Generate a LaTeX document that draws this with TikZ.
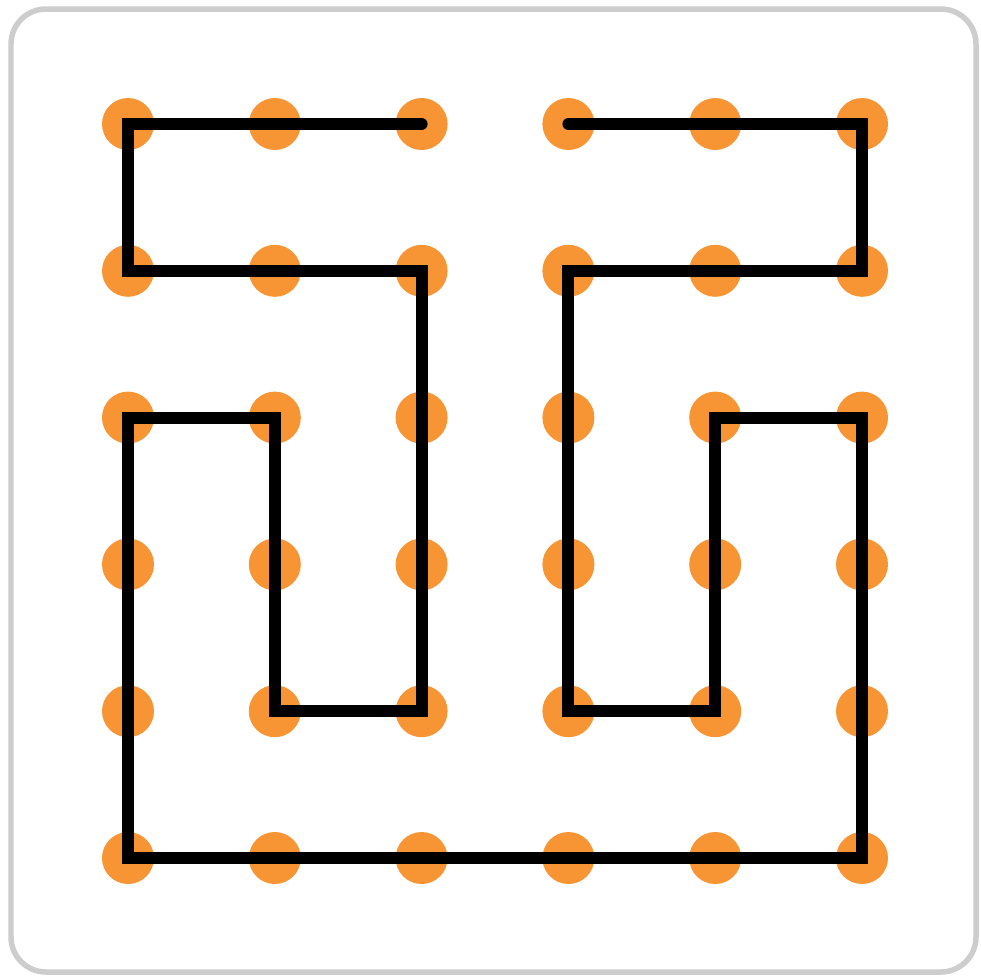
\documentclass[tikz,border=0pt]{standalone}
\usepackage{xcolor}
\usepackage{tikz}
\usetikzlibrary{positioning}

\definecolor{dotorange}{RGB}{247,148,52}
\definecolor{framegray}{RGB}{205,205,205}

\tikzset{
    peg/.style={circle, fill=dotorange, minimum size=0.52cm, inner sep=0pt},
    loopline/.style={line width=0.12cm, line cap=round, line join=miter}
}

\begin{document}
\begin{tikzpicture}[scale=1]
    \useasboundingbox (0,0) rectangle (9.81,-9.78);
    \draw[framegray, line width=0.055cm, rounded corners=0.35cm] (0.11,-0.09) rectangle (9.76,-9.72);

    % grid of pegs
    \foreach \i in {1,...,6} {
        \foreach \j in {1,...,6} {
            \node[peg] (p-\i-\j) at ({1.28+1.468*(\i-1)},{-1.24-1.468*(\j-1)}) {};
        }
    }

    % the closed-off path
    \draw[loopline] (p-3-1.center) -- (p-1-1.center) -- (p-1-2.center) -- (p-3-2.center)
        -- (p-3-5.center) -- (p-2-5.center) -- (p-2-3.center) -- (p-1-3.center)
        -- (p-1-6.center) -- (p-6-6.center) -- (p-6-3.center) -- (p-5-3.center)
        -- (p-5-5.center) -- (p-4-5.center) -- (p-4-2.center) -- (p-6-2.center)
        -- (p-6-1.center) -- (p-4-1.center);
\end{tikzpicture}
\end{document}
